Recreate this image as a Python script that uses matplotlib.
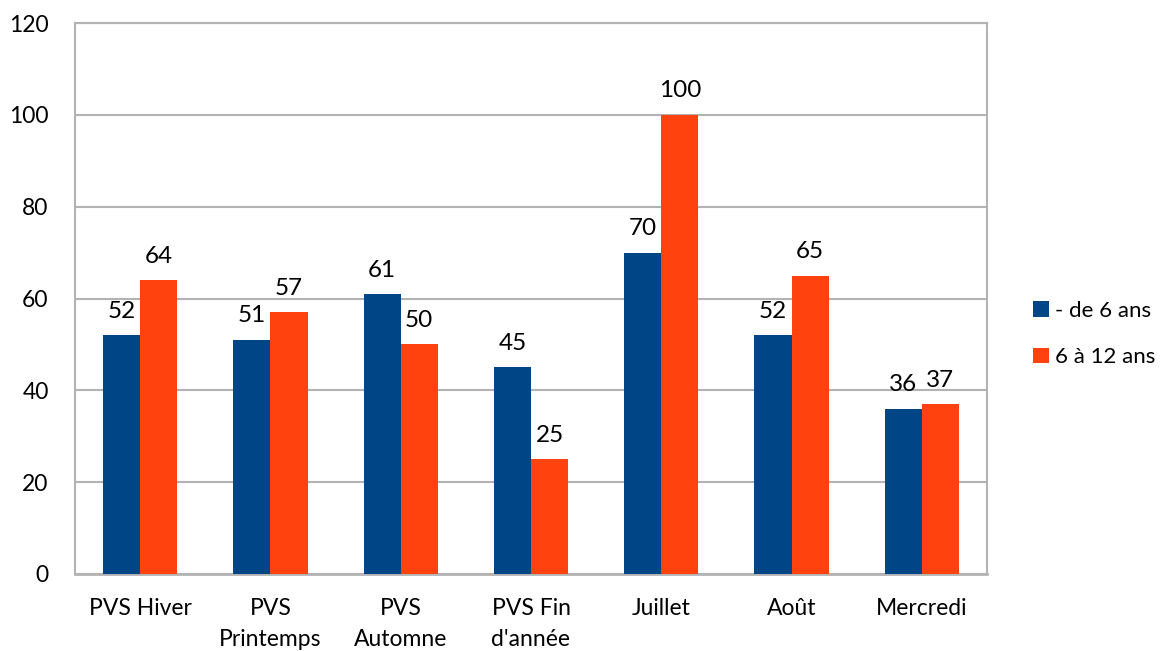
import matplotlib
matplotlib.use("Agg")
import matplotlib.pyplot as plt
import numpy as np
from matplotlib.patches import Patch

plt.rcParams['font.family'] = ['Lato', 'DejaVu Sans']

categories = ["PVS Hiver", "PVS\nPrintemps", "PVS\nAutomne", "PVS Fin\nd'année",
              "Juillet", "Août", "Mercredi"]
under_6 = [52, 51, 61, 45, 70, 52, 36]
age_6_12 = [64, 57, 50, 25, 100, 65, 37]
series_names = ["- de 6 ans", "6 à 12 ans"]
y_ticks = [0, 20, 40, 60, 80, 100, 120]

blue = "#004586"
orange = "#ff420e"
grid_col = "#b3b3b3"

fig = plt.figure(figsize=(11.65, 6.51), dpi=100)
ax = fig.add_axes([75 / 1165, 1 - 574 / 651, 912 / 1165, 551 / 651])

x = np.arange(len(categories))
w = 0.285
b1 = ax.bar(x - w / 2, under_6, w, color=blue, zorder=3)
b2 = ax.bar(x + w / 2, age_6_12, w, color=orange, zorder=3)

for bars, vals in ((b1, under_6), (b2, age_6_12)):
    for rect, v in zip(bars, vals):
        ax.annotate(str(v), (rect.get_x() + rect.get_width() / 2, v),
                    xytext=(0, 12.5), textcoords="offset points",
                    ha="center", va="baseline", fontsize=17.5, color="black")

ax.set_xlim(-0.5, len(categories) - 0.5)
ax.set_ylim(0, 120)
ax.set_yticks(y_ticks)
ax.set_yticklabels([str(t) for t in y_ticks])
ax.set_xticks(x)
ax.set_xticklabels(categories, linespacing=1.6)
ax.tick_params(axis="y", length=0, pad=19, labelsize=16.5)
ax.tick_params(axis="x", length=0, pad=17, labelsize=16.5)
ax.yaxis.grid(True, color=grid_col, linewidth=1.5, zorder=0)
ax.set_axisbelow(True)
for s in ax.spines.values():
    s.set_color(grid_col)
    s.set_linewidth(1.5)
ax.spines["bottom"].set_linewidth(2)

handles = [Patch(facecolor=blue), Patch(facecolor=orange)]
fig.legend(handles, series_names, loc="center left",
           bbox_to_anchor=(1033 / 1165, 1 - 334 / 651), frameon=False,
           fontsize=16, handlelength=0.72, handleheight=0.72,
           handletextpad=0.28, labelspacing=1.2, borderpad=0,
           borderaxespad=0)

fig.savefig("out.png", dpi=100)
